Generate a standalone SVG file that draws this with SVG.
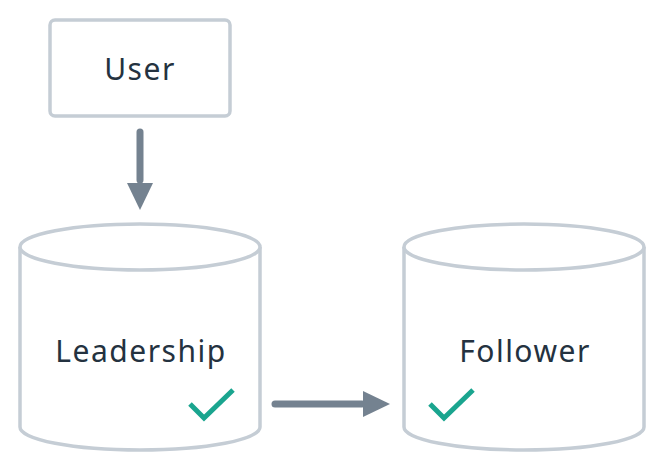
<svg xmlns="http://www.w3.org/2000/svg" width="664" height="472" viewBox="0 0 664 472">
  <defs>
    <style>
      .outline { fill: #ffffff; stroke: #c5cdd5; stroke-width: 3.5; }
      .label { font-family: "Noto Sans", "DejaVu Sans", sans-serif; font-size: 30px; fill: #243240; text-anchor: middle; letter-spacing: 1.5px; }
      .conn { stroke: #748290; stroke-width: 7; stroke-linecap: round; fill: none; }
      .tick { stroke: #1aa58f; stroke-width: 5; fill: none; stroke-linejoin: miter; }
    </style>
  </defs>

  <rect width="664" height="472" fill="#ffffff"/>

  <!-- connectors -->
  <g id="connectors">
    <line class="conn" x1="140" y1="132" x2="140" y2="180"/>
    <path d="M127,183 L153,183 L140,210 Z" fill="#748290"/>
    <line class="conn" x1="275" y1="404" x2="362" y2="404"/>
    <path d="M363,391 L363,417 L390,404 Z" fill="#748290"/>
  </g>

  <!-- User box -->
  <g id="user">
    <rect class="outline" x="50" y="20" width="180" height="96" rx="5"/>
    <text class="label" x="140" y="80">User</text>
  </g>

  <!-- Leadership store -->
  <g id="leadership">
    <path class="outline" d="M20,247 L20,427 A120,23 0 0 0 260,427 L260,247"/>
    <ellipse class="outline" cx="140" cy="247" rx="120" ry="23"/>
    <text class="label" x="141" y="362">Leadership</text>
    <polyline class="tick" points="190,404 204,418 233,390"/>
  </g>

  <!-- Follower store -->
  <g id="follower">
    <path class="outline" d="M404,247 L404,427 A120,23 0 0 0 644,427 L644,247"/>
    <ellipse class="outline" cx="524" cy="247" rx="120" ry="23"/>
    <text class="label" x="525" y="362">Follower</text>
    <polyline class="tick" points="430,404 444,418 473,390"/>
  </g>
</svg>
